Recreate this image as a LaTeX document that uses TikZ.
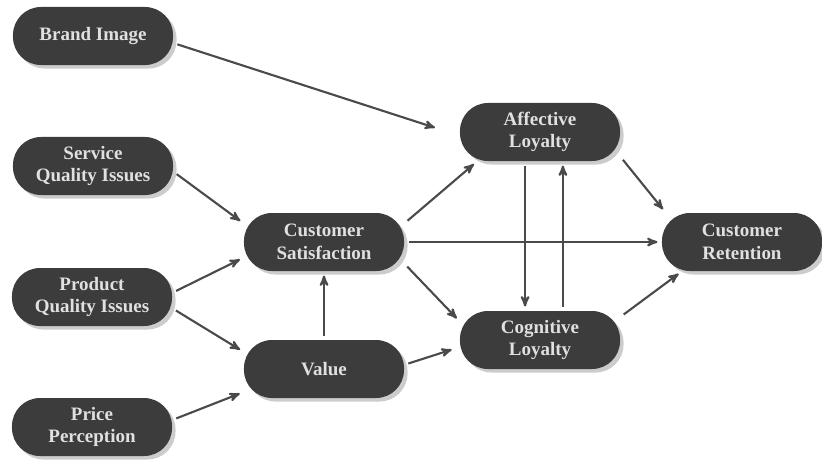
\documentclass[tikz,border=0pt]{standalone}
\usepackage{fontspec}
\setmainfont{Liberation Serif}
\usetikzlibrary{positioning, arrows, shadows}
\definecolor{boxgray}{HTML}{3C3C3C}
\definecolor{arrowgray}{HTML}{4A4A4A}
\tikzset{%
  factor/.style={
    rectangle,
    rounded corners=0.7cm,
    fill=boxgray,
    minimum width=4cm,
    minimum height=1.45cm,
    text=white!88!black,
    align=center,
    font=\fontsize{13.5}{16}\selectfont\bfseries,
    drop shadow={shadow xshift=2.5pt, shadow yshift=-2.5pt,
      fill=black!20, opacity=1}},  % soft grey shadow
  every edge/.style={
    draw=arrowgray,
    ->,
    >=stealth',
    line width=1.5pt,
    shorten <=3pt,
    shorten >=3pt} %
}

\begin{document}
\begin{tikzpicture}[x=0.025cm, y=-0.025cm]
    \useasboundingbox (0,0) rectangle (822,463);

    \node[factor] (bi)  at (93,36)   {Brand Image};
    \node[factor] (sqi) at (93,166)  {Service\\Quality Issues};
    \node[factor] (pqi) at (92,297)  {Product\\Quality Issues};
    \node[factor] (pp)  at (92,427)  {Price\\Perception};
    \node[factor] (cs)  at (324,242) {Customer\\Satisfaction};
    \node[factor] (val) at (324,369) {Value};
    \node[factor] (al)  at (540,132) {Affective\\Loyalty};
    \node[factor] (cl)  at (540,340) {Cognitive\\Loyalty};
    \node[factor] (cr)  at (742,242) {Customer\\Retention};
    \coordinate (bi-tip) at (439,129);

    \draw
      (bi.-5)  edge (bi-tip)
      (sqi.-4) edge (cs.167)
      (pqi.3)  edge (cs.191)
      (pqi.-8) edge (val.168)
      (pp.5)   edge (val.196)
      (val.north) edge (cs.south)
      (cs.13)  edge (al.205)
      (cs.east) edge (cr.west)
      (cs.-15) edge (cl.167)
      (val.3)  edge [shorten >=6pt] (cl.185)
      (al.243) edge (cl.117)
      (cl.52)  edge (al.-52)
      (al.-17) edge (cr.159)
      (cl.16)  edge (cr.206)
    ;

\end{tikzpicture}
\end{document}
